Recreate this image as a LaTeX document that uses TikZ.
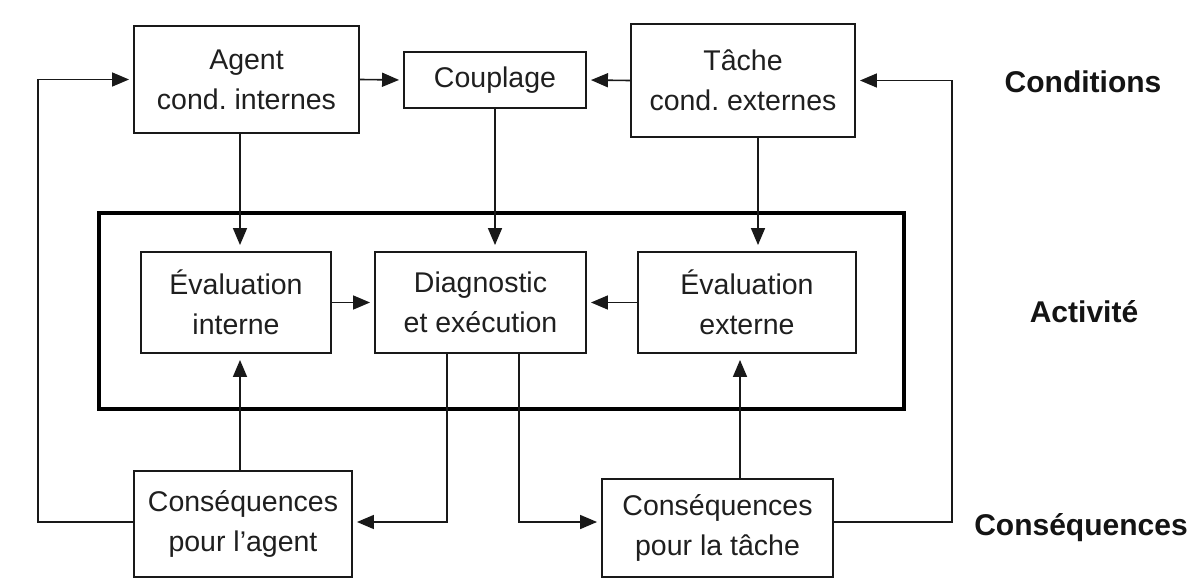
\documentclass[tikz,border=0pt]{standalone}
\usepackage{fontspec}
\setmainfont{Liberation Sans}
\usetikzlibrary{arrows.meta,calc}
\begin{document}
\begin{tikzpicture}[x=1pt,y=-1pt,
  box/.style={draw=black!90,line width=1.9pt,align=center,inner sep=0pt,
    font=\fontsize{28.5}{40}\selectfont\frenchspacing,text=black!88},
  arr/.style={line width=1.6pt,draw=black!90,-{Triangle[length=17pt,width=14pt]},shorten >=4pt},
  varr/.style={arr,shorten >=6pt},
  lab/.style={font=\fontsize{30}{36}\selectfont\bfseries,text=black!92}]
\useasboundingbox[fill=white] (0,0) rectangle (1201,586);
% top row
\node[box,minimum width=225pt,minimum height=107pt] (agent) at (246.5,79.5) {Agent\\cond. internes};
\node[box,minimum width=182pt,minimum height=56pt] (coupl) at (495,80) {Couplage};
\node[box,minimum width=224pt,minimum height=113pt] (tache) at (743,80.5) {T\^ache\\cond. externes};
% activity frame
\node[draw=black,line width=4.5pt,minimum width=805pt,minimum height=196pt,inner sep=0pt] (act) at (501.5,311) {};
\node[box,minimum width=190pt,minimum height=101pt] (evi) at (236,302.5) {\'Evaluation\\interne};
\node[box,minimum width=211pt,minimum height=101pt] (diag) at (480.5,302.5) {Diagnostic\\et ex\'ecution};
\node[box,minimum width=218pt,minimum height=101pt] (eve) at (747,302.5) {\'Evaluation\\externe};
% bottom row
\node[box,minimum width=218pt,minimum height=106pt] (ca) at (243,524) {Cons\'equences\\pour l'agent};
\node[box,minimum width=231pt,minimum height=98pt] (ct) at (717.5,528) {Cons\'equences\\pour la t\^ache};
% labels
\node[lab] (l1) at (1083,82) {Conditions};
\node[lab] (l2) at (1084,312) {Activit\'e};
\node[lab] (l3) at (1081,528) {Cons\'equences};
% helper coordinates
\coordinate (xA) at (240,0);
\coordinate (xB) at (495,0);
\coordinate (xC) at (758,0);
\coordinate (xD) at (740,0);
\coordinate (xE) at (447,0);
\coordinate (xF) at (519,0);
\coordinate (xL) at (38,0);
\coordinate (xR) at (952,0);
\coordinate (yb) at (0,522);
% connectors
\draw[arr] (agent.east) -- (coupl.west);
\draw[arr] (tache.west) -- (coupl.east);
\draw[varr] (agent.south -| xA) -- (evi.north -| xA);
\draw[varr] (coupl.south -| xB) -- (diag.north -| xB);
\draw[varr] (tache.south -| xC) -- (eve.north -| xC);
\draw[arr] (evi.east) -- (diag.west);
\draw[arr] (eve.west) -- (diag.east);
\draw[varr] (ca.north -| xA) -- (evi.south -| xA);
\draw[varr] (ct.north -| xD) -- (eve.south -| xD);
\draw[arr] (diag.south -| xE) |- (ca.east |- yb);
\draw[arr] (diag.south -| xF) |- (ct.west |- yb);
\draw[arr] (ca.west |- yb) -| (xL |- agent.west) -- (agent.west);
\draw[arr] (ct.east |- yb) -| (xR |- tache.east) -- (tache.east);
\end{tikzpicture}
\end{document}
